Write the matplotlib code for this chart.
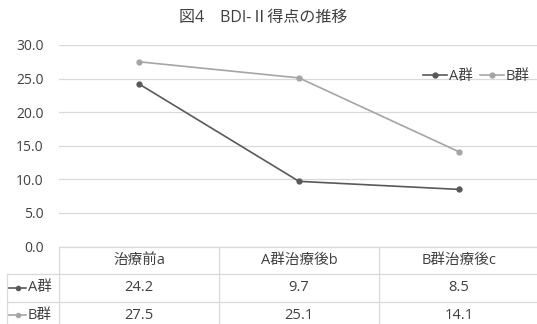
import matplotlib.pyplot as plt
from matplotlib.lines import Line2D
from matplotlib.transforms import blended_transform_factory

plt.rcParams['font.family'] = ['Open Sans', 'Noto Sans CJK JP', 'DejaVu Sans']

categories = ['治療前a', 'A群治療後b', 'B群治療後c']
series_names = ['A群', 'B群']
score_a = [24.2, 9.7, 8.5]
score_b = [27.5, 25.1, 14.1]
series_values = [score_a, score_b]
colors = ['#595959', '#a5a5a5']
grid_color = '#d9d9d9'
text_color = '#404040'
fs = 10.5

W, H = 537, 324
fig = plt.figure(figsize=(W / 100, H / 100), dpi=100)

# plot area in pixels (left, top of 0-line, band width)
left_px, zero_px, top_px, band_px = 59, 246.5, 45, 160
ax = fig.add_axes([left_px / W, (H - zero_px) / H,
                   3 * band_px / W, (zero_px - top_px) / H])
x = range(len(categories))
for name, vals, c in zip(series_names, series_values, colors):
    ax.plot(x, vals, color=c, lw=1.2, marker='o', ms=3.5, label=name)

ax.set_xlim(-0.5, 2.5)
ax.set_ylim(0, 30)
ax.set_yticks([0, 5, 10, 15, 20, 25, 30])
ax.set_yticklabels([f'{v:.1f}' for v in ax.get_yticks()], fontsize=10, color=text_color)
ax.tick_params(axis='y', length=0, pad=11)
ax.set_xticks([])
ax.grid(axis='y', color=grid_color, lw=0.9)
ax.set_axisbelow(True)
for s in ax.spines.values():
    s.set_visible(False)

ax.legend(loc='upper right', bbox_to_anchor=(1.0, (H - 62) / H), bbox_transform=fig.transFigure,
          ncol=2, frameon=False, fontsize=fs, handlelength=1.6, handletextpad=0.15,
          columnspacing=0.5, labelcolor=text_color, borderaxespad=0.1)

fig.text(263 / W, 1 - 18 / H, '図4　BDI-Ⅱ得点の推移', ha='center', va='center',
         fontsize=11.5, color=text_color)

# data table under the plot
over = fig.add_axes([0, 0, 1, 1], facecolor='none')
over.set_xlim(0, W)
over.set_ylim(H, 0)
over.axis('off')
tr = blended_transform_factory(ax.transData, over.transData)

row_h = 27.5
rows_y = [zero_px, zero_px + row_h, zero_px + 2 * row_h, zero_px + 3 * row_h]
lw = 0.9
# horizontal lines
over.plot([left_px, W], [rows_y[0]] * 2, color=grid_color, lw=lw)
for yy in rows_y[1:3]:
    over.plot([7, W], [yy, yy], color=grid_color, lw=lw)
# vertical lines
over.plot([7, 7], [rows_y[1], H], color=grid_color, lw=lw)
for b in [-0.5, 0.5, 1.5]:
    over.plot([b, b], [rows_y[0], H], color=grid_color, lw=lw, transform=tr, clip_on=False)

for i, cat in enumerate(categories):
    over.text(i, (rows_y[0] + rows_y[1]) / 2, cat, transform=tr, ha='center', va='center',
              fontsize=fs, color=text_color)

for r, (name, vals, c) in enumerate(zip(series_names, series_values, colors)):
    yc = (rows_y[r + 1] + rows_y[r + 2]) / 2
    over.add_line(Line2D([9, 26], [yc, yc], color=c, lw=1.2))
    over.plot([18], [yc], 'o', color=c, ms=3)
    over.text(28, yc, name, ha='left', va='center', fontsize=fs, color=text_color)
    for i, v in enumerate(vals):
        over.text(i, yc, f'{v:.1f}', transform=tr, ha='center', va='center',
                  fontsize=fs, color=text_color)

fig.savefig('out.png', dpi=100)
